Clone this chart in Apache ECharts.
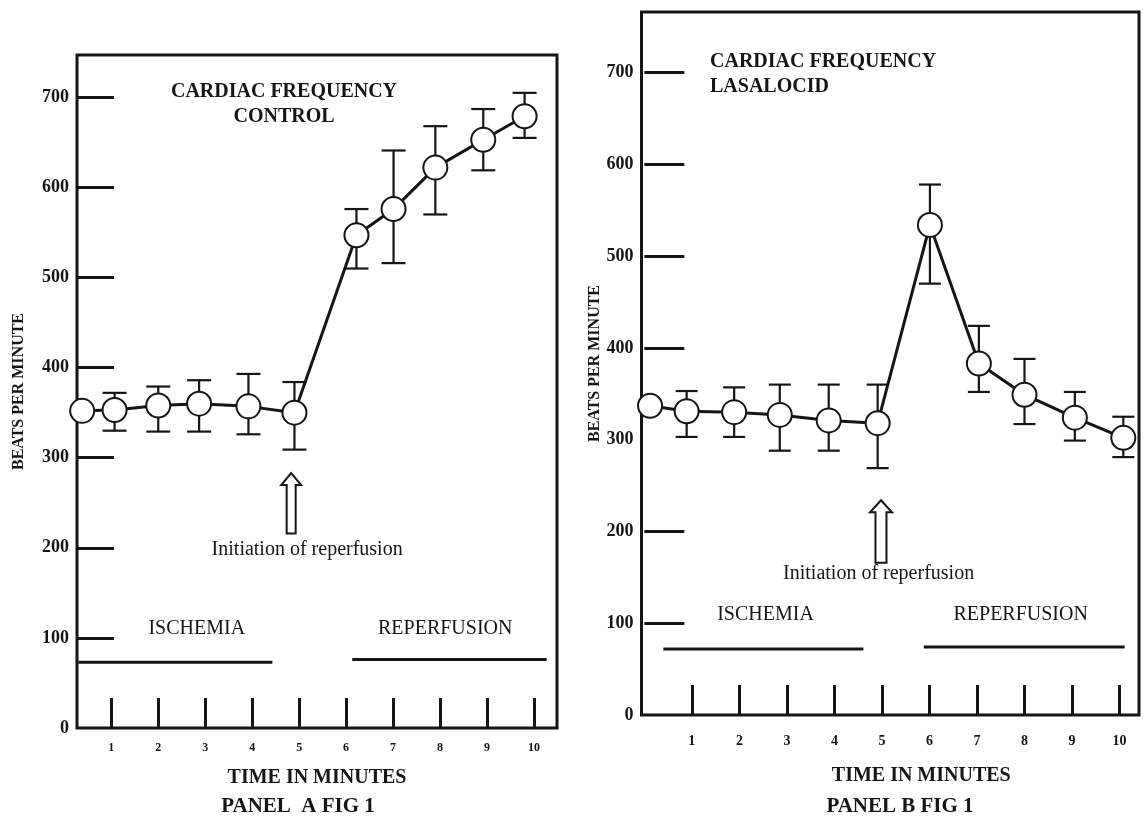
<!DOCTYPE html>
<html><head><meta charset="utf-8">
<script src="https://cdn.jsdelivr.net/npm/echarts@6/dist/echarts.min.js"></script>
<style>html,body{margin:0;padding:0;background:#fff}#c{width:1145px;height:819px}</style>
</head><body><div id="c"></div>
<script>
// ---------- Panel A : control ----------
const timeA    = [0.38, 1.07, 2.00, 2.87, 3.92, 4.90, 6.22, 7.01, 7.90, 8.92, 9.80];
const bpmA     = [352, 353, 358, 360, 357, 350, 547, 576, 622, 653, 679];
const errLowA  = [null, 330, 329, 329, 326, 309, 510, 516, 570, 619, 655];
const errHighA = [null, 372, 379, 386, 393, 384, 576, 641, 668, 687, 705];
// ---------- Panel B : lasalocid ----------
const timeB    = [0.12, 0.89, 1.89, 2.85, 3.88, 4.91, 6.01, 7.04, 8.00, 9.06, 10.08];
const bpmB     = [337, 331, 330, 327, 321, 318, 534, 383, 349, 324, 302];
const errLowB  = [null, 303, 303, 288, 288, 269, 470, 352, 317, 299, 281];
const errHighB = [null, 353, 357, 360, 360, 360, 578, 424, 388, 352, 325];

// ---------- tick labels ----------
const xTicks  = [1, 2, 3, 4, 5, 6, 7, 8, 9, 10];
const yLabels = [0, 100, 200, 300, 400, 500, 600, 700];
const yTicksA = [100, 200, 300, 400, 500, 600, 700];
const yTicksB = [100, 200, 400, 500, 600, 700];

// ---------- annotations (data coordinates) ----------
const periodsA = [
  {label: 'ISCHEMIA',    from: 0.30, to: 4.43,  y: 73, textX: 2.82, textY: 110},
  {label: 'REPERFUSION', from: 6.13, to: 10.27, y: 76, textX: 8.11, textY: 110}
];
const periodsB = [
  {label: 'ISCHEMIA',    from: 0.40, to: 4.61,  y: 72, textX: 2.55, textY: 109},
  {label: 'REPERFUSION', from: 5.88, to: 10.11, y: 74, textX: 7.92, textY: 109}
];
const onsetA = {time: 4.83, tip: 283, base: 216, text: 'Initiation of reperfusion', textX: 5.17, textY: 198};
const onsetB = {time: 4.98, tip: 234, base: 166, text: 'Initiation of reperfusion', textX: 4.93, textY: 154};

const INK = '#151515';
const SERIF = '"Liberation Serif", "Times New Roman", serif';

function makeItems(periods, onset) {
  const items = [];
  periods.forEach(p => {
    items.push({kind: 'line', value: [p.from, p.y, p.to, p.y]});
    items.push({kind: 'text', value: [p.textX, p.textY, p.textX, p.textY], text: p.label});
  });
  items.push({kind: 'arrow', value: [onset.time, onset.tip, onset.time, onset.base]});
  items.push({kind: 'text', value: [onset.textX, onset.textY, onset.textX, onset.textY], text: onset.text});
  return items;
}

function annotationSeries(items, idx, arrow) {
  return {
    type: 'custom', xAxisIndex: idx, yAxisIndex: idx, silent: true, z: 1,
    data: items.map(d => d.value),
    renderItem(params, api) {
      const it = items[params.dataIndex];
      const p1 = api.coord([api.value(0), api.value(1)]);
      const p2 = api.coord([api.value(2), api.value(3)]);
      if (it.kind === 'line') {
        return {type: 'line', shape: {x1: p1[0], y1: p1[1], x2: p2[0], y2: p2[1]},
                style: {stroke: INK, lineWidth: 3}};
      }
      if (it.kind === 'text') {
        return {type: 'text', x: p1[0], y: p1[1],
                style: {text: it.text, fill: INK, font: '20px ' + SERIF,
                        align: 'center', verticalAlign: 'middle',
                        textAlign: 'center', textVerticalAlign: 'middle'}};
      }
      const cx = p1[0], ty = p1[1], by = p2[1];
      const hw = arrow.head / 2, hh = arrow.headH, sw = arrow.shaft / 2;
      return {type: 'polygon',
              shape: {points: [[cx, ty], [cx + hw, ty + hh], [cx + sw, ty + hh], [cx + sw, by],
                               [cx - sw, by], [cx - sw, ty + hh], [cx - hw, ty + hh]]},
              style: {fill: '#fff', stroke: INK, lineWidth: 2}};
    }
  };
}

function errorSeries(time, lo, hi, idx, cap) {
  const data = [];
  time.forEach((t, i) => { if (lo[i] != null) data.push([t, lo[i], hi[i]]); });
  return {
    type: 'custom', xAxisIndex: idx, yAxisIndex: idx, silent: true, z: 2,
    data,
    renderItem(params, api) {
      const x = api.value(0);
      const a = api.coord([x, api.value(1)]);
      const b = api.coord([x, api.value(2)]);
      const st = {stroke: INK, lineWidth: 2.2};
      return {type: 'group', children: [
        {type: 'line', shape: {x1: b[0], y1: b[1], x2: a[0], y2: a[1]}, style: st},
        {type: 'line', shape: {x1: b[0] - cap, y1: b[1], x2: b[0] + cap, y2: b[1]}, style: st},
        {type: 'line', shape: {x1: a[0] - cap, y1: a[1], x2: a[0] + cap, y2: a[1]}, style: st}
      ]};
    }
  };
}

function lineSeries(time, bpm, idx) {
  return {
    type: 'line', xAxisIndex: idx, yAxisIndex: idx, z: 3,
    data: time.map((t, i) => [t, bpm[i]]),
    symbol: 'circle', symbolSize: 24, showAllSymbol: true,
    lineStyle: {color: INK, width: 3},
    itemStyle: {color: '#fff', borderColor: INK, borderWidth: 2},
    emphasis: {disabled: true}
  };
}

function xAxis(idx, min, max, labelSize, margin, nameGap, namePad) {
  return {
    type: 'value', gridIndex: idx, min, max,
    axisLine: {show: false}, splitLine: {show: false},
    axisTick: {show: true, inside: true, length: 30, customValues: xTicks,
               lineStyle: {color: INK, width: 3}},
    axisLabel: {customValues: xTicks, margin, color: INK, fontFamily: SERIF,
                fontWeight: 'bold', fontSize: labelSize},
    name: 'TIME IN MINUTES', nameLocation: 'middle', nameGap,
    nameTextStyle: {color: INK, fontFamily: SERIF, fontWeight: 'bold', fontSize: 20, padding: namePad}
  };
}

function yAxis(idx, max, ticks, tickLen, nameGap) {
  return {
    type: 'value', gridIndex: idx, min: 0, max,
    axisLine: {show: false}, splitLine: {show: false},
    axisTick: {show: true, inside: true, length: tickLen, customValues: ticks,
               lineStyle: {color: INK, width: 3}},
    axisLabel: {customValues: yLabels, margin: 8, color: INK, fontFamily: SERIF,
                fontWeight: 'bold', fontSize: 18},
    name: 'BEATS PER MINUTE', nameLocation: 'middle', nameGap, nameRotate: 90,
    nameTextStyle: {color: INK, fontFamily: SERIF, fontWeight: 'bold', fontSize: 16}
  };
}

const chart = echarts.init(document.getElementById('c'), null, {renderer: 'canvas'});
const txt = (text, x, y, size, align) => ({
  type: 'text', x, y, silent: true,
  style: {text, fill: INK, font: 'bold ' + size + 'px ' + SERIF,
          align, verticalAlign: 'middle', textAlign: align, textVerticalAlign: 'middle'}
});

chart.setOption({
  animation: false,
  backgroundColor: '#fff',
  grid: [
    {left: 77, top: 55, width: 480, height: 673, show: true, borderColor: INK, borderWidth: 3,
     backgroundColor: 'transparent', outerBoundsMode: 'none', containLabel: false},
    {left: 641.5, top: 12, width: 497.5, height: 703, show: true, borderColor: INK, borderWidth: 3,
     backgroundColor: 'transparent', outerBoundsMode: 'none', containLabel: false}
  ],
  xAxis: [
    xAxis(0, 0.27, 10.49, 12, 14, 40, [0, 0, 0, 0]),
    xAxis(1, -0.06, 10.41, 14, 19, 51, [0, 0, 0, 62])
  ],
  yAxis: [
    yAxis(0, 747, yTicksA, 37, 50),
    yAxis(1, 766, yTicksB, 40, 39)
  ],
  graphic: [
    txt('CARDIAC FREQUENCY', 284, 92, 20, 'center'),
    txt('CONTROL', 284, 117, 20, 'center'),
    txt('CARDIAC FREQUENCY', 710, 62, 20, 'left'),
    txt('LASALOCID', 710, 87, 20, 'left'),
    txt('PANEL  A FIG 1', 298, 807, 21, 'center'),
    txt('PANEL B FIG 1', 900, 807, 21, 'center')
  ],
  series: [
    annotationSeries(makeItems(periodsA, onsetA), 0, {head: 20, headH: 12, shaft: 9}),
    errorSeries(timeA, errLowA, errHighA, 0, 12),
    lineSeries(timeA, bpmA, 0),
    annotationSeries(makeItems(periodsB, onsetB), 1, {head: 22, headH: 12, shaft: 11}),
    errorSeries(timeB, errLowB, errHighB, 1, 11),
    lineSeries(timeB, bpmB, 1)
  ]
});
</script>
</body></html>
